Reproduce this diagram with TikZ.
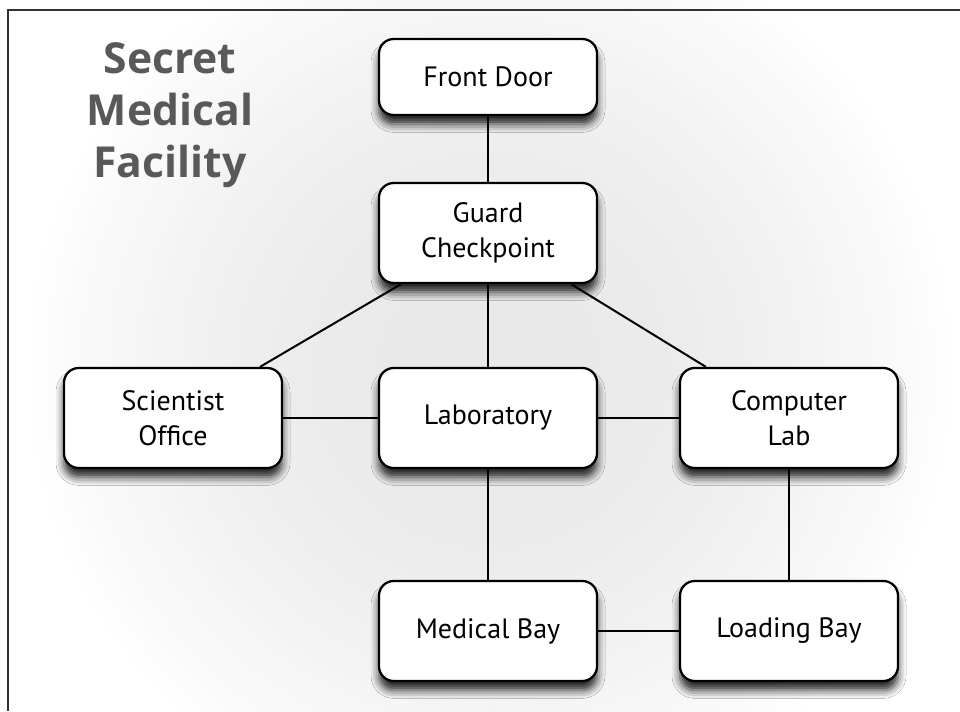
\documentclass[tikz,border=0pt]{standalone}
\usepackage{fontspec}
\setmainfont{PT Sans}
\newfontfamily\titlefont{Open Sans}
\usetikzlibrary{shadows.blur}
\definecolor{titlegray}{HTML}{58595B}
\begin{document}
\begin{tikzpicture}[x=0.75pt,y=-0.75pt,
    room/.style={draw, line width=1.7pt, rounded corners=11pt, fill=white,
      minimum width=163.5pt, minimum height=75pt, align=center,
      font=\fontsize{21}{26}\selectfont,
      blur shadow={shadow xshift=0pt, shadow yshift=-7pt,
        shadow blur radius=6pt, shadow opacity=85}},
    link/.style={line width=1.5pt}]
  \useasboundingbox (0,0) rectangle (960,711);
  \fill[white] (0,0) rectangle (960,711);
  % soft grey glow behind the rooms
  \begin{scope}
    \clip (0,0) rectangle (960,711);
    \foreach \r [evaluate=\r as \g using {9*(1-(\r/470)^2)}] in {470,460,...,10}
      \fill[black!\g] (490,370) circle (\r);
  \end{scope}
  \draw[line width=0.8pt, black!80] (960,10) -- (8,10) -- (8,711);
  \node[text=titlegray, align=center, font=\titlefont\fontsize{32}{39}\selectfont\bfseries]
    (title) at (170,115) {Secret\\Medical\\Facility};
  \draw
    (488,77) node[room, minimum height=57pt] (front){Front Door}
    (488,233) node[room] (guard){Guard\\Checkpoint}
    (173,418) node[room] (office){Scientist\\Office}
    (488,418) node[room] (lab){Laboratory}
    (789,418) node[room] (comp){Computer\\Lab}
    (488,631) node[room] (medbay){Medical Bay}
    (789,631) node[room] (loadbay){Loading Bay};
  \begin{scope}[link]
    \draw (front) to (guard);
    \draw (guard) to (office);
    \draw (guard) to (lab);
    \draw (guard) to (comp);
    \draw (office) to (lab);
    \draw (lab) to (comp);
    \draw (lab) to (medbay);
    \draw (comp) to (loadbay);
    \draw (medbay) to (loadbay);
  \end{scope}
\end{tikzpicture}
\end{document}
